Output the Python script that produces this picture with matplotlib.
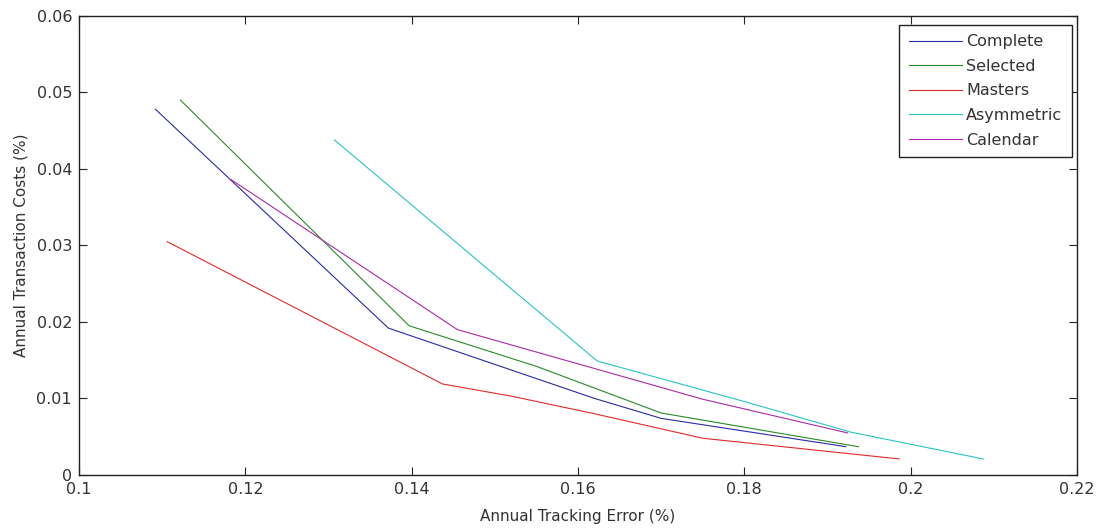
import matplotlib
matplotlib.use("Agg")
import matplotlib.pyplot as plt

plt.rcParams['font.family'] = ['DejaVu Sans']

# ---- data ----
complete_x = [0.1092, 0.1372, 0.1620, 0.1700, 0.1922]
complete_y = [0.0478, 0.0192, 0.0100, 0.0074, 0.0037]

selected_x = [0.1122, 0.1397, 0.1550, 0.1700, 0.1937]
selected_y = [0.0490, 0.0195, 0.0142, 0.0081, 0.0037]

masters_x = [0.1106, 0.1437, 0.1520, 0.1620, 0.1750, 0.1986]
masters_y = [0.0305, 0.0119, 0.0103, 0.0080, 0.0048, 0.0021]

asym_x = [0.1307, 0.1623, 0.1800, 0.1928, 0.2087]
asym_y = [0.0438, 0.0149, 0.0096, 0.0056, 0.0021]

calendar_x = [0.1183, 0.1455, 0.1750, 0.1924]
calendar_y = [0.0386, 0.0190, 0.0099, 0.0055]

series_names = ['Complete', 'Selected', 'Masters', 'Asymmetric', 'Calendar']

x_ticks = [0.1, 0.12, 0.14, 0.16, 0.18, 0.2, 0.22]
x_ticklabels = ['0.1', '0.12', '0.14', '0.16', '0.18', '0.2', '0.22']
y_ticks = [0, 0.01, 0.02, 0.03, 0.04, 0.05, 0.06]
y_ticklabels = ['0', '0.01', '0.02', '0.03', '0.04', '0.05', '0.06']

x_label = 'Annual Tracking Error (%)'
y_label = 'Annual Transaction Costs (%)'

colors = ['#2a2aa8', '#2a8a2a', '#e02a2a', '#2ac4c4', '#a82aa8']

TXT = '#333333'

# ---- figure ----
fig = plt.figure(figsize=(11.05, 5.31), dpi=100)
ax = fig.add_axes([0.0715, 0.1055, 0.9032, 0.8644])

data = [(complete_x, complete_y), (selected_x, selected_y), (masters_x, masters_y),
        (asym_x, asym_y), (calendar_x, calendar_y)]
for (xs, ys), name, c in zip(data, series_names, colors):
    ax.plot(xs, ys, color=c, lw=0.8, label=name)

ax.set_xlim(0.1, 0.22)
ax.set_ylim(0, 0.06)
ax.set_xticks(x_ticks)
ax.set_xticklabels(x_ticklabels)
ax.set_yticks(y_ticks)
ax.set_yticklabels(y_ticklabels)
ax.tick_params(direction='in', length=6, width=0.8, top=True, right=True,
               labelsize=11.5, colors='#222222', labelcolor=TXT, pad=5)
for s in ax.spines.values():
    s.set_linewidth(1.0)
    s.set_color('#222222')

ax.set_xlabel(x_label, fontsize=11, color=TXT, labelpad=9)
ax.set_ylabel(y_label, fontsize=11, color=TXT, labelpad=6)

leg = ax.legend(loc='upper right', bbox_to_anchor=(0.995, 0.981), fontsize=11.5,
                fancybox=False, framealpha=1, edgecolor='#222222',
                handlelength=3.3, handletextpad=0.3, labelspacing=0.6,
                borderpad=0.6, borderaxespad=0)
leg.get_frame().set_linewidth(1.0)
for t in leg.get_texts():
    t.set_color(TXT)

fig.savefig('out.png', dpi=100)
